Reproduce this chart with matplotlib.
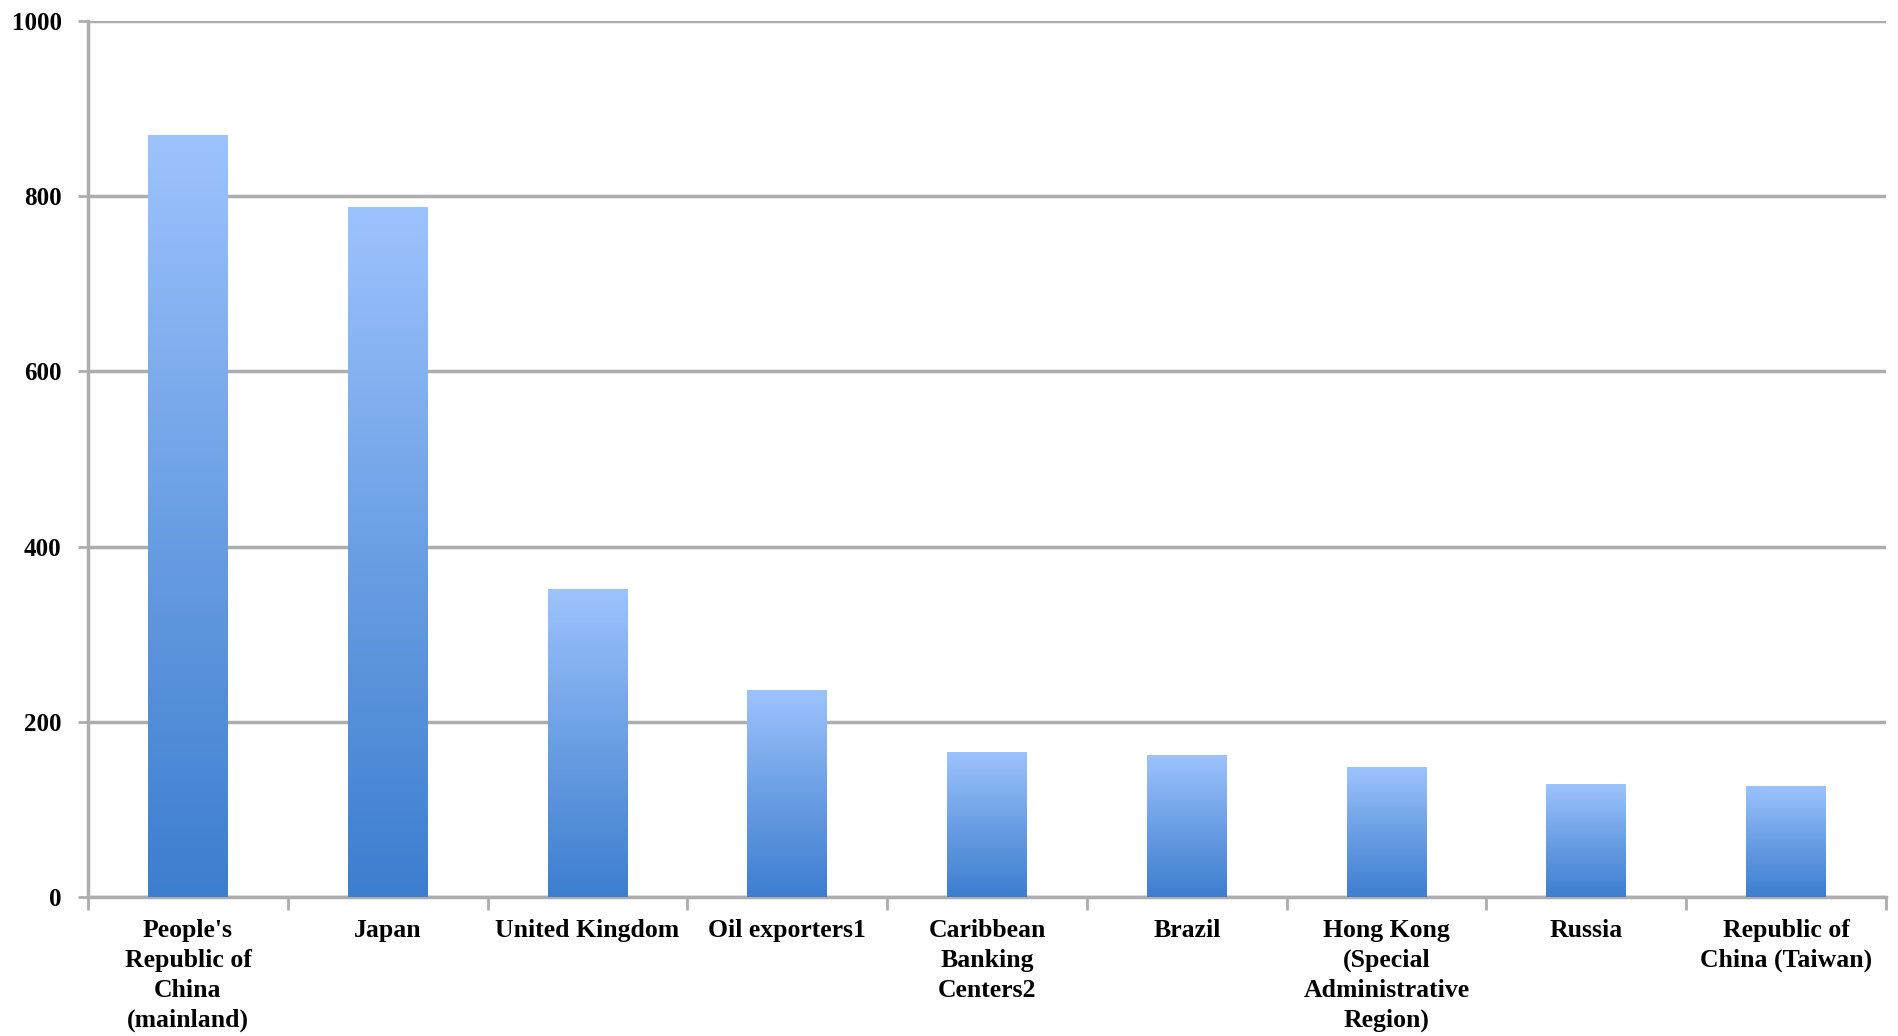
import matplotlib
matplotlib.use('Agg')
import matplotlib.pyplot as plt
from matplotlib.colors import LinearSegmentedColormap
import numpy as np

countries = ["People's\nRepublic of\nChina\n(mainland)", 'Japan', 'United Kingdom',
             'Oil exporters1', 'Caribbean\nBanking\nCenters2', 'Brazil',
             'Hong Kong\n(Special\nAdministrative\nRegion)', 'Russia',
             'Republic of\nChina (Taiwan)']
holdings = [870, 788, 352, 236, 166, 162, 148, 129, 127]
y_ticks = [0, 200, 400, 600, 800, 1000]

plt.rcParams['font.family'] = ['Liberation Serif', 'DejaVu Serif']
plt.rcParams['font.weight'] = 'bold'

fig = plt.figure(figsize=(18.98, 10.36), dpi=100)
ax = fig.add_axes([0.0464, 0.1342, 0.9473, 0.8455])

# gradient: light at top, darker blue at bottom
cmap = LinearSegmentedColormap.from_list('barfade', ['#3d7ecf', '#6b9fe4', '#9dc3fd'])
grad = np.linspace(0, 1, 256).reshape(-1, 1)

x = np.arange(len(countries))
bars = ax.bar(x, holdings, width=0.4, color='none', edgecolor='none', zorder=3)
for b in bars:
    x0, w, h = b.get_x(), b.get_width(), b.get_height()
    im = ax.imshow(grad, cmap=cmap, origin='lower', aspect='auto',
                   extent=[x0, x0 + w, 0, h], zorder=3)
    im.set_clip_path(b)

ax.set_xlim(-0.5, len(countries) - 0.5)
ax.set_ylim(0, 1000)
ax.set_yticks(y_ticks)
ax.set_yticklabels([str(v) for v in y_ticks], fontsize=18, fontweight='bold')
ax.yaxis.grid(True, color='#adadad', linewidth=2.5, zorder=1)
ax.set_axisbelow(True)

ax.set_xticks(x)
ax.set_xticklabels(countries, fontsize=18.5, fontweight='bold', linespacing=1.37)
ax.tick_params(axis='x', which='major', length=0, pad=16)
ax.set_xticks(np.arange(len(countries) + 1) - 0.5, minor=True)
ax.tick_params(axis='x', which='minor', length=9, width=2, color='#adadad', direction='out')
ax.tick_params(axis='y', length=7, width=2, color='#adadad', pad=12)

for side in ['top', 'right']:
    ax.spines[side].set_visible(False)
for side in ['left', 'bottom']:
    ax.spines[side].set_color('#adadad')
    ax.spines[side].set_linewidth(2.5)

fig.savefig('out.png', dpi=100)
